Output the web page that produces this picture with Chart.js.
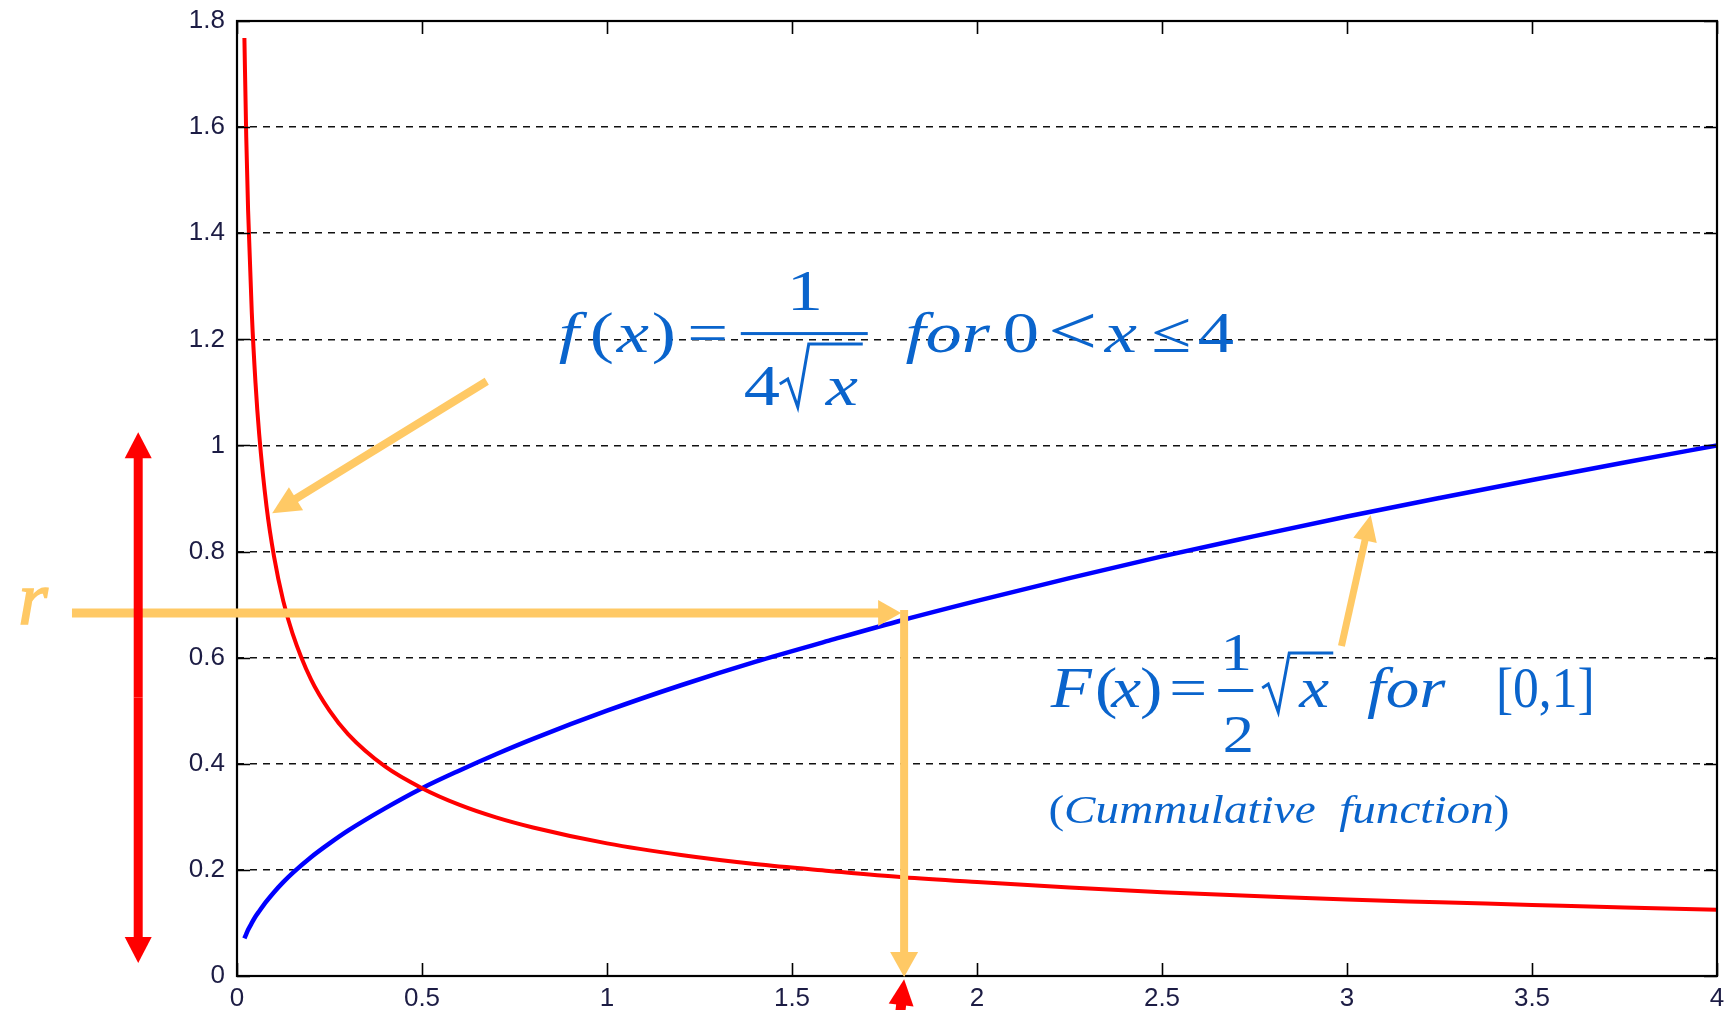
<!DOCTYPE html>
<html>
<head>
<meta charset="utf-8">
<title>f(x) = 1/(4&radic;x) and F(x)</title>
<script src="https://cdn.jsdelivr.net/npm/chart.js@4.4.1/dist/chart.umd.min.js"></script>
<style>
  html, body { margin: 0; padding: 0; background: #fff; }
  #wrap { width: 1731px; height: 1010px; }
</style>
</head>
<body>
<div id="wrap"><canvas id="chart" width="1731" height="1010"></canvas></div>
<script>
// sample points along x, shared by both curves
var xValues = [0.02, 0.025, 0.03, 0.04, 0.05, 0.06, 0.08, 0.1, 0.125, 0.15, 0.2, 0.25, 0.3, 0.4, 0.5, 0.6, 0.7, 0.8,
               1.0, 1.2, 1.4, 1.6, 1.8, 2.0, 2.25, 2.5, 2.75, 3.0, 3.25, 3.5, 3.75, 4.0];
// density f(x) (red)
var densityValues = [1.768, 1.581, 1.443, 1.25, 1.118, 1.021, 0.884, 0.791, 0.707, 0.646, 0.559, 0.5, 0.456, 0.395, 0.354, 0.323, 0.299, 0.28,
                     0.25, 0.228, 0.211, 0.198, 0.186, 0.177, 0.167, 0.158, 0.151, 0.144, 0.139, 0.134, 0.129, 0.125];
// cumulative F(x) (blue)
var cumulativeValues = [0.071, 0.079, 0.087, 0.1, 0.112, 0.122, 0.141, 0.158, 0.177, 0.194, 0.224, 0.25, 0.274, 0.316, 0.354, 0.387, 0.418, 0.447,
                        0.5, 0.548, 0.592, 0.632, 0.671, 0.707, 0.75, 0.791, 0.829, 0.866, 0.901, 0.935, 0.968, 1.0];

var xTicks = [0, 0.5, 1, 1.5, 2, 2.5, 3, 3.5, 4];
var xTickLabels = ['0', '0.5', '1', '1.5', '2', '2.5', '3', '3.5', '4'];
var yTicks = [0, 0.2, 0.4, 0.6, 0.8, 1, 1.2, 1.4, 1.6, 1.8];
var yTickLabels = ['0', '0.2', '0.4', '0.6', '0.8', '1', '1.2', '1.4', '1.6', '1.8'];

// random number r and the x it maps to through F
var rValue = 0.684;
var xAtR = 1.803;

var ORANGE = '#ffc965';
var RED = '#ff0000';
var TEXT_BLUE = '#0a64cc';

function points(ys) {
  return xValues.map(function (x, i) { return { x: x, y: ys[i] }; });
}

function arrow(ctx, x1, y1, x2, y2, width, headLen, headWidth, color) {
  var ang = Math.atan2(y2 - y1, x2 - x1);
  var c = Math.cos(ang), s = Math.sin(ang);
  var bx = x2 - headLen * c, by = y2 - headLen * s;
  ctx.strokeStyle = color;
  ctx.lineWidth = width;
  ctx.lineCap = 'butt';
  ctx.beginPath();
  ctx.moveTo(x1, y1);
  ctx.lineTo(bx + c, by + s);
  ctx.stroke();
  ctx.fillStyle = color;
  ctx.beginPath();
  ctx.moveTo(x2, y2);
  ctx.lineTo(bx + headWidth / 2 * s, by - headWidth / 2 * c);
  ctx.lineTo(bx - headWidth / 2 * s, by + headWidth / 2 * c);
  ctx.closePath();
  ctx.fill();
}

// one glyph (or word) centred at cx, stretched sideways by sx
function glyph(ctx, text, cx, baseline, font, sx) {
  ctx.save();
  ctx.translate(cx, baseline);
  ctx.scale(sx, 1);
  ctx.font = font;
  ctx.textAlign = 'center';
  ctx.textBaseline = 'alphabetic';
  ctx.fillText(text, 0, 0);
  ctx.restore();
}

function polyline(ctx, ox, oy, pts, width) {
  ctx.lineWidth = width;
  ctx.lineJoin = 'miter';
  ctx.beginPath();
  pts.forEach(function (p, i) {
    if (i === 0) ctx.moveTo(ox + p[0], oy + p[1]);
    else ctx.lineTo(ox + p[0], oy + p[1]);
  });
  ctx.stroke();
}

// closed box with inward tick marks on all four sides
var framePlugin = {
  id: 'frame',
  afterDatasetsDraw: function (chart) {
    var ctx = chart.ctx, a = chart.chartArea;
    var sx = chart.scales.x, sy = chart.scales.y;
    var tl = 13;
    ctx.save();
    ctx.strokeStyle = '#000';
    ctx.lineWidth = 1.6;
    ctx.beginPath();
    xTicks.forEach(function (v) {
      var px = Math.round(sx.getPixelForValue(v)) + 0.5;
      ctx.moveTo(px, a.bottom); ctx.lineTo(px, a.bottom - tl);
      ctx.moveTo(px, a.top); ctx.lineTo(px, a.top + tl);
    });
    yTicks.forEach(function (v) {
      var py = Math.round(sy.getPixelForValue(v)) + 0.5;
      ctx.moveTo(a.left, py); ctx.lineTo(a.left + tl, py);
      ctx.moveTo(a.right, py); ctx.lineTo(a.right - tl, py);
    });
    ctx.stroke();
    ctx.lineWidth = 2.2;
    ctx.strokeRect(a.left, a.top, a.right - a.left, a.bottom - a.top);
    ctx.restore();
  }
};

var notesPlugin = {
  id: 'notes',
  afterDraw: function (chart) {
    var ctx = chart.ctx;
    var sx = chart.scales.x, sy = chart.scales.y;
    var X = function (v) { return sx.getPixelForValue(v); };
    var Y = function (v) { return sy.getPixelForValue(v); };
    ctx.save();

    // r on the vertical axis, carried across to F and down to x
    var ry = Y(rValue), rx = X(xAtR);
    arrow(ctx, X(-0.446), ry, rx - 3, ry, 9, 23, 26, ORANGE);
    arrow(ctx, rx, ry - 3, rx, Y(0) + 1, 8, 25, 28, ORANGE);

    // pointers to the two curves
    arrow(ctx, X(0.675), Y(1.121), X(0.095), Y(0.872), 8, 28, 27, ORANGE);
    arrow(ctx, X(2.985), Y(0.622), X(3.064), Y(0.869), 7, 26, 24, ORANGE);

    // range of r: double-headed red arrow
    var ax = X(-0.267), top = Y(1.025), bot = Y(0.0245);
    var mid = (top + bot) / 2;
    arrow(ctx, ax, mid, ax, top, 9, 26, 27, RED);
    arrow(ctx, ax, mid, ax, bot, 9, 26, 27, RED);

    // red pointer at the resulting x value
    arrow(ctx, X(xAtR) - 7, Y(-0.12), X(xAtR), Y(-0.006), 10, 26, 25, RED);

    // r label
    ctx.fillStyle = ORANGE;
    ctx.strokeStyle = ORANGE;
    ctx.font = 'italic 76px "Liberation Serif"';
    ctx.textAlign = 'center';
    ctx.lineWidth = 1.5;
    ctx.fillText('r', X(-0.551), Y(0.664));
    ctx.strokeText('r', X(-0.551), Y(0.664));

    ctx.fillStyle = TEXT_BLUE;
    ctx.strokeStyle = TEXT_BLUE;

    // f(x) = 1 / (4 sqrt x)  for 0 < x <= 4
    var ox = X(0.848), oy = Y(1.176);
    var up = '58px "Liberation Serif"', it = 'italic 58px "Liberation Serif"', k = 1.25;
    glyph(ctx, 'f', ox + 18, oy, it, k);
    glyph(ctx, '(', ox + 51, oy, up, k);
    glyph(ctx, 'x', ox + 82, oy, it, k);
    glyph(ctx, ')', ox + 113, oy, up, k);
    glyph(ctx, '=', ox + 157, oy, up, k);
    ctx.fillRect(ox + 190, oy - 20, 127, 3);
    glyph(ctx, '1', ox + 254, oy - 42, up, k);
    glyph(ctx, '4', ox + 211, oy + 53, up, k);
    polyline(ctx, ox, oy, [[229, 32], [237, 27], [247, 55], [258, -8], [312, -8]], 3);
    glyph(ctx, 'x', ox + 291, oy + 53, it, k);
    glyph(ctx, 'for', ox + 397, oy, it, k);
    glyph(ctx, '0', ox + 470, oy, up, k);
    glyph(ctx, '<', ox + 522, oy + 2, '70px "Liberation Serif"', k);
    glyph(ctx, 'x', ox + 570, oy, it, k);
    glyph(ctx, '\u2264', ox + 621, oy, up, k);
    glyph(ctx, '4', ox + 665, oy, up, k);

    // F(x) = (1/2) sqrt x  for [0,1]
    ox = X(2.198); oy = Y(0.507);
    var up2 = '56px "Liberation Serif"', it2 = 'italic 56px "Liberation Serif"', fr = '52px "Liberation Serif"';
    k = 1.2;
    glyph(ctx, 'F', ox + 21, oy, it2, k);
    glyph(ctx, '(', ox + 56, oy, up2, k);
    glyph(ctx, 'x', ox + 76, oy, it2, k);
    glyph(ctx, ')', ox + 101, oy, up2, k);
    glyph(ctx, '=', ox + 138, oy, up2, k);
    glyph(ctx, '1', ox + 186, oy - 37, fr, k);
    ctx.fillRect(ox + 168, oy - 18, 35, 3);
    glyph(ctx, '2', ox + 188, oy + 45, fr, k);
    polyline(ctx, ox, oy, [[212, -19], [218, -23], [228, 5], [239, -54], [283, -54]], 3);
    glyph(ctx, 'x', ox + 264, oy, it2, k);
    glyph(ctx, 'for', ox + 356, oy, it2, k);
    glyph(ctx, '[0,1]', ox + 495, oy, up2, 0.92);

    // (Cummulative function), fitted to its span
    var cx0 = X(2.193), cy = Y(0.288), span = 461;
    var pf = '39px "Liberation Serif"', itf = 'italic 39px "Liberation Serif"';
    var word = 'Cummulative  function';
    ctx.font = pf; var wp = ctx.measureText('(').width;
    ctx.font = itf; var ww = ctx.measureText(word).width;
    var s = span / (2 * wp + ww);
    ctx.save();
    ctx.translate(cx0, cy);
    ctx.scale(s, 1);
    ctx.textAlign = 'left';
    ctx.font = pf; ctx.fillText('(', 0, 0);
    ctx.font = itf; ctx.fillText(word, wp, 0);
    ctx.font = pf; ctx.fillText(')', wp + ww, 0);
    ctx.restore();

    ctx.restore();
  }
};

Chart.defaults.font.family = '"Liberation Sans", Arial, sans-serif';

var ctx = document.getElementById('chart').getContext('2d');
new Chart(ctx, {
  type: 'line',
  data: {
    datasets: [{
      label: 'f(x)',
      data: points(densityValues),
      borderColor: RED,
      borderWidth: 4,
      pointRadius: 0,
      fill: false,
      cubicInterpolationMode: 'monotone'
    }, {
      label: 'F(x)',
      data: points(cumulativeValues),
      borderColor: '#0000ff',
      borderWidth: 4.5,
      pointRadius: 0,
      fill: false,
      cubicInterpolationMode: 'monotone'
    }]
  },
  options: {
    responsive: false,
    animation: false,
    devicePixelRatio: 1,
    events: [],
    layout: { autoPadding: false, padding: { left: 0, top: 21, right: 14, bottom: 0 } },
    plugins: { legend: { display: false }, tooltip: { enabled: false } },
    scales: {
      x: {
        type: 'linear',
        min: 0,
        max: 4,
        afterBuildTicks: function (scale) { scale.ticks = xTicks.map(function (v) { return { value: v }; }); },
        afterFit: function (scale) {
          scale.height = 34;
          scale.paddingLeft = 0;
          scale.paddingRight = 0;
        },
        grid: { display: false, drawTicks: false },
        border: { display: false },
        ticks: {
          padding: 7,
          autoSkip: false,
          maxRotation: 0,
          color: '#1c1c44',
          font: { size: 26 },
          callback: function (v, i) { return xTickLabels[i]; }
        }
      },
      y: {
        min: 0,
        max: 1.8,
        afterBuildTicks: function (scale) { scale.ticks = yTicks.map(function (v) { return { value: v }; }); },
        afterFit: function (scale) {
          scale.width = 237;
          scale.paddingTop = 0;
          scale.paddingBottom = 0;
        },
        grid: { color: '#111', lineWidth: 1.6, drawTicks: false, borderDash: [7, 6] },
        border: { display: false, dash: [7, 6] },
        ticks: {
          padding: 12,
          color: '#1c1c44',
          font: { size: 26 },
          callback: function (v, i) { return yTickLabels[i]; }
        }
      }
    }
  },
  plugins: [framePlugin, notesPlugin]
});
</script>
</body>
</html>
